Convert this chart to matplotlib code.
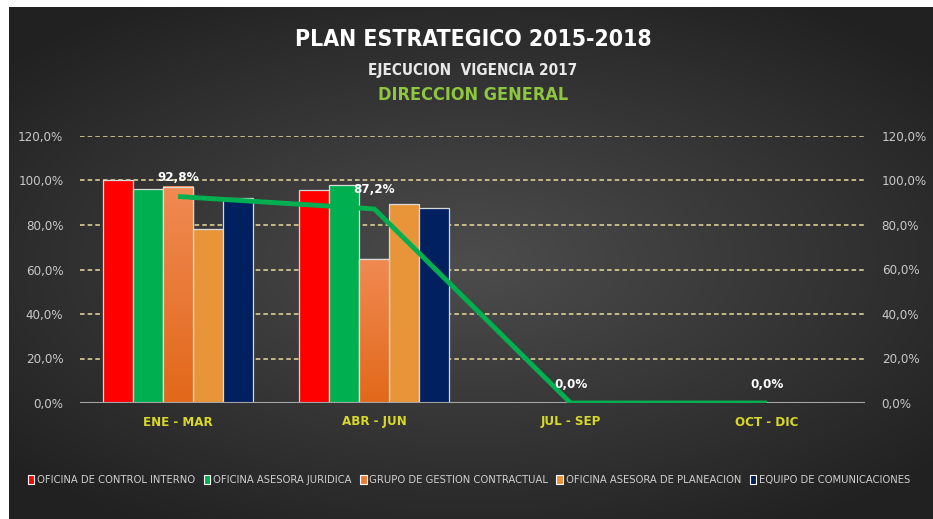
"""Plan estrategico 2015-2018 - ejecucion vigencia 2017, direccion general."""
import numpy as np
import matplotlib
matplotlib.use("Agg")
import matplotlib.pyplot as plt
from matplotlib.patches import Patch

periods = ["ENE - MAR", "ABR - JUN", "JUL - SEP", "OCT - DIC"]
series_names = [
    "OFICINA DE CONTROL INTERNO",
    "OFICINA ASESORA JURIDICA",
    "GRUPO DE GESTION CONTRACTUAL",
    "OFICINA ASESORA DE PLANEACION",
    "EQUIPO DE COMUNICACIONES",
]
control_interno = [100.0, 95.7, 0.0, 0.0]
asesora_juridica = [96.2, 98.1, 0.0, 0.0]
gestion_contractual = [97.1, 64.6, 0.0, 0.0]
asesora_planeacion = [78.2, 89.6, 0.0, 0.0]
comunicaciones = [92.3, 87.5, 0.0, 0.0]
total_avance = [92.8, 87.2, 0.0, 0.0]
yticks = [0, 20, 40, 60, 80, 100, 120]

colors = ["#ff0000", "#00b050", "#ee7a33", "#e8953a", "#002060"]

# condensed DejaVu is closer to the narrow original font
plt.rcParams["font.family"] = ["DejaVu Sans"]
plt.rcParams["font.stretch"] = "condensed"


def pct(v):
    return f"{v:.1f}".replace(".", ",") + "%"


fig = plt.figure(figsize=(9.33, 5.19), dpi=100, facecolor="white")

# dark radial gradient background
bg = fig.add_axes([9 / 933, 0, 1 - 9 / 933, 1 - 7 / 519])
yy, xx = np.mgrid[-1:1:300j, -1:1:500j]
r = np.sqrt((xx / 1.1) ** 2 + (yy / 1.0) ** 2)
shade = np.clip(0.30 - 0.14 * r, 0.13, 0.30)
img = np.dstack([shade, shade, shade])
bg.imshow(img, aspect="auto", extent=[0, 1, 0, 1], interpolation="bilinear")
bg.set_axis_off()

ax = fig.add_axes([80 / 933, 116 / 519, 785 / 933, 267 / 519])
ax.set_facecolor("none")

x = np.arange(len(periods))
w = 0.153
all_series = [control_interno, asesora_juridica, gestion_contractual,
              asesora_planeacion, comunicaciones]
for i, vals in enumerate(all_series):
    bars = ax.bar(x + (i - 2) * w, vals, width=w, color=colors[i],
                  edgecolor="#d9d9d9", linewidth=0.9, zorder=3)
    if i == 2:
        # orange gradient on the contractual bars
        cmap = matplotlib.colors.LinearSegmentedColormap.from_list(
            "o", ["#f08a52", "#e2681a"])
        for b in bars:
            h = b.get_height()
            if h <= 0:
                continue
            grad = np.linspace(0, 1, 100).reshape(-1, 1)
            ax.imshow(grad, cmap=cmap, aspect="auto", zorder=3.1,
                      extent=[b.get_x(), b.get_x() + b.get_width(), 0, h])
            ax.add_patch(plt.Rectangle((b.get_x(), 0), b.get_width(), h,
                                       fill=False, edgecolor="#d9d9d9",
                                       linewidth=0.9, zorder=3.2))

ax.plot(x, total_avance, color="#00b050", linewidth=3.5, zorder=5,
        solid_capstyle="butt")
for xi, v in zip(x, total_avance):
    ax.annotate(pct(v), (xi, v), xytext=(0, 9), textcoords="offset points",
                ha="center", va="bottom", color="white", fontsize=9.5,
                fontweight="bold", zorder=6)

ax.set_xlim(-0.5, len(periods) - 0.5)
ax.set_ylim(0, 120)
ax.set_yticks(yticks)
ax.set_yticklabels([pct(t) for t in yticks])
for t in yticks[1:]:
    ax.axhline(t, color="#eadc9c", linestyle=(0, (3, 2)), linewidth=1.1, zorder=1)
ax.axhline(0, color="#a6a6a6", linewidth=1.5, zorder=4)

ax.set_xticks(x)
ax.set_xticklabels(periods)
ax.tick_params(axis="x", length=0, pad=9, colors="#d8d82a", labelsize=9.5)
ax.tick_params(axis="y", length=0, pad=12, colors="#c8c8c8", labelsize=9.5)
for lbl in ax.get_xticklabels():
    lbl.set_fontweight("bold")
for s in ax.spines.values():
    s.set_visible(False)

ax2 = ax.twinx()
ax2.set_ylim(0, 120)
ax2.set_yticks(yticks)
ax2.set_yticklabels([pct(t) for t in yticks])
ax2.tick_params(axis="y", length=0, pad=12, colors="#c8c8c8", labelsize=9.5)
for s in ax2.spines.values():
    s.set_visible(False)

fig.text(473 / 933, 1 - 39 / 519, "PLAN ESTRATEGICO 2015-2018", ha="center",
         va="center", color="white", fontsize=16.5, fontweight="bold")
fig.text(473 / 933, 1 - 70 / 519, "EJECUCION  VIGENCIA 2017", ha="center",
         va="center", color="#e8e8e8", fontsize=11, fontweight="bold")
fig.text(473 / 933, 1 - 95 / 519, "DIRECCION GENERAL", ha="center",
         va="center", color="#8ec63f", fontsize=13, fontweight="bold")

handles = [Patch(facecolor=c, edgecolor="white", linewidth=0.8) for c in colors]
leg = fig.legend(handles, series_names, loc="center", ncol=5,
                 bbox_to_anchor=(469 / 933, 1 - 480 / 519), frameon=False,
                 fontsize=8, handlelength=0.6, handleheight=0.9,
                 handletextpad=0.25, columnspacing=0.75)
for t in leg.get_texts():
    t.set_color("#d0d0d0")

fig.savefig("out.png", dpi=100, facecolor=fig.get_facecolor())
